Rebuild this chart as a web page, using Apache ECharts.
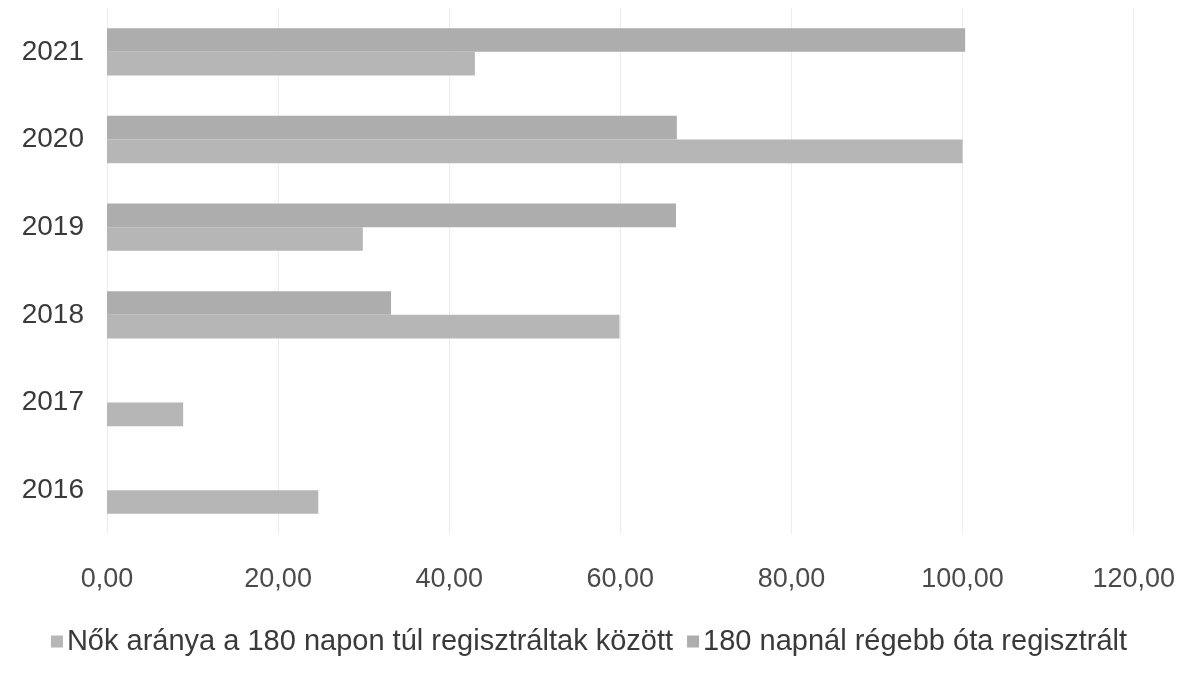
<!DOCTYPE html>
<html>
<head>
<meta charset="utf-8">
<script src="https://cdn.jsdelivr.net/npm/echarts@6/dist/echarts.min.js"></script>
<style>html,body{margin:0;padding:0;background:#fff}#c{width:1178px;height:683px}</style>
</head>
<body>
<div id="c"></div>
<script>
const categories = ['2016', '2017', '2018', '2019', '2020', '2021'];
const seriesNames = ['Nők aránya a 180 napon túl regisztráltak között', '180 napnál régebb óta regisztrált'];
const womenShare = [24.7, 8.9, 59.9, 29.9, 100, 43];
const registered180 = [null, null, 33.2, 66.5, 66.6, 100.3];
const xTicks = [0, 20, 40, 60, 80, 100, 120];

const chart = echarts.init(document.getElementById('c'));
const font = 'Liberation Sans';
chart.setOption({
  animation: false,
  backgroundColor: '#ffffff',
  grid: { left: 107, right: 43, top: 8, bottom: 149, containLabel: false },
  xAxis: {
    type: 'value', min: xTicks[0], max: xTicks[xTicks.length - 1], interval: 20,
    axisLine: { show: false }, axisTick: { show: false },
    splitLine: { show: true, lineStyle: { color: '#ececec', width: 1 } },
    axisLabel: { margin: 32, color: '#4a4a4a', fontFamily: font, fontSize: 27,
      formatter: v => v.toFixed(2).replace('.', ',') }
  },
  yAxis: {
    type: 'category', data: categories,
    axisLine: { show: false }, axisTick: { show: false },
    axisLabel: { margin: 23, color: '#3a3a3a', fontFamily: font, fontSize: 28 }
  },
  legend: {
    bottom: 22, left: 'center', icon: 'rect', itemWidth: 12, itemHeight: 12, itemGap: 14,
    textStyle: { color: '#3a3a3a', fontFamily: font, fontSize: 29, padding: [0, 0, 0, -1] },
    data: seriesNames
  },
  series: [
    { name: seriesNames[1], type: 'bar', data: registered180, barGap: '0%', barCategoryGap: '46%',
      itemStyle: { color: '#adadad' } },
    { name: seriesNames[0], type: 'bar', data: womenShare, barGap: '0%', barCategoryGap: '46%',
      itemStyle: { color: '#b6b6b6' } }
  ]
});
</script>
</body>
</html>
